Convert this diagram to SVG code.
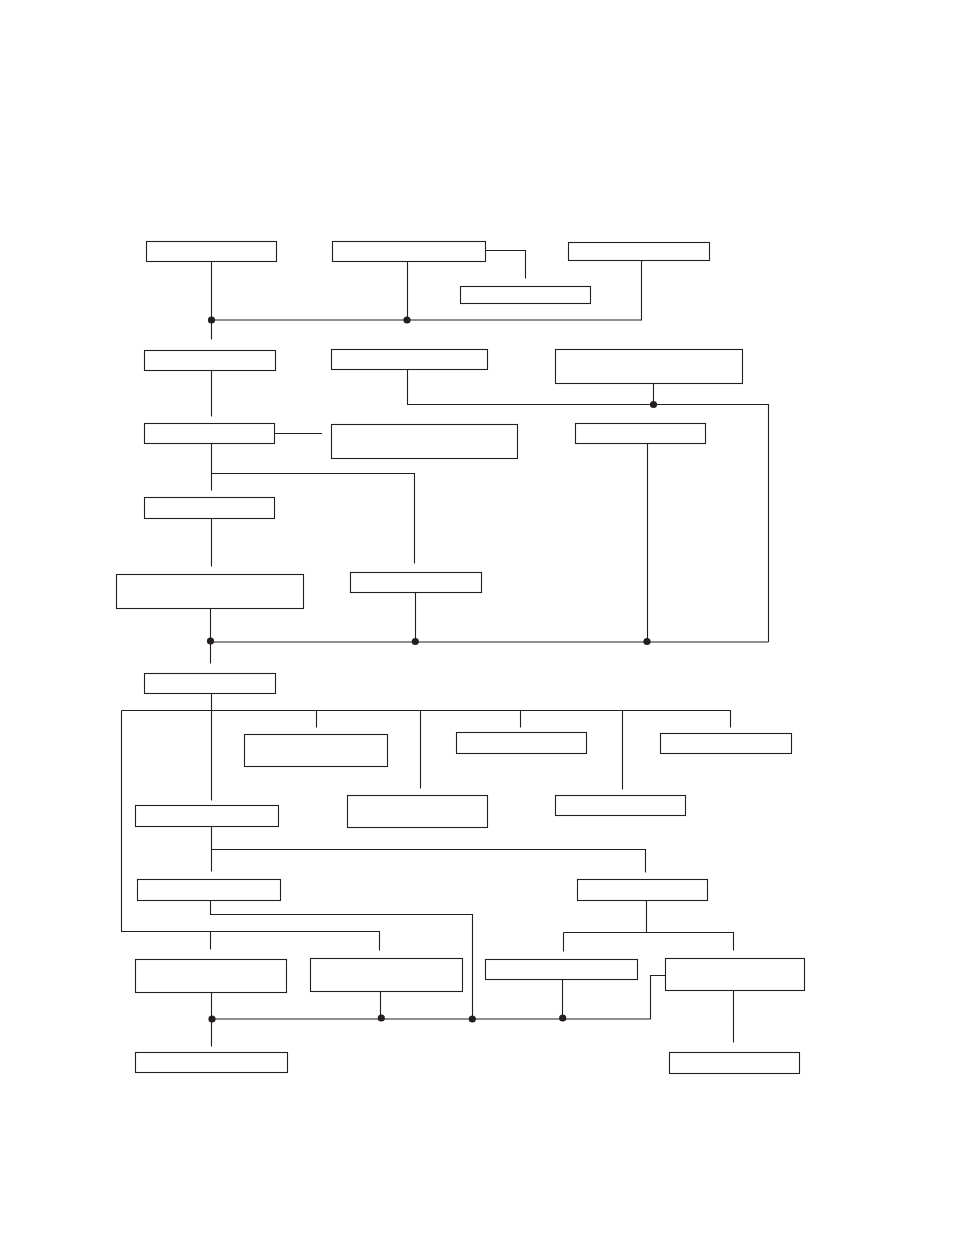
<svg xmlns="http://www.w3.org/2000/svg" width="954" height="1235" viewBox="0 0 954 1235">
<style>
.box{fill:#fff;stroke:#231f20;stroke-width:1.1}
.ln{fill:none;stroke:#231f20;stroke-width:1.1}
.dot{fill:#231f20}
</style>
<rect width="954" height="1235" fill="#fff"/>
<g id="connectors">
<path class="ln" d="M211.5,261.5V339.5 M407.5,261.5V320 M211.5,320H641.5V260.5 M485.5,250.5H525.5V278.5"/>
<path class="ln" d="M211.5,370.5V416.5 M407.5,369.5V404.5H768.5V642 M653.5,383.5V404.5 M274.5,433.5H322"/>
<path class="ln" d="M211.5,443.5V490.5 M211.5,473.5H414.5V563.5 M647.5,443.5V642 M211.5,518.5V566.5"/>
<path class="ln" d="M210.5,608.5V663.5 M415.5,592.5V642 M210.5,642H768.5"/>
<path class="ln" d="M211.5,693.5V800.5 M121.5,710.5H730.5V727.5 M316.5,710.5V727.5 M420.5,710.5V788.5 M520.5,710.5V727.5 M622.5,710.5V789.5 M121.5,710.5V931.5H379.5V950.5 M210.5,931.5V949.5"/>
<path class="ln" d="M211.5,826.5V871.5 M211.5,849.5H645.5V872.5 M210.5,900.5V914.5H472.5V1019"/>
<path class="ln" d="M646.5,900.5V932.5 M563.5,932.5H733.5V950.5 M563.5,932.5V951.5"/>
<path class="ln" d="M211.5,992.5V1046.5 M380.5,991.5V1019 M562.5,979.5V1019 M211.5,1019H650.5V975.5H665.5 M733.5,990.5V1042.5"/>
<circle class="dot" cx="211.5" cy="320" r="3.6"/>
<circle class="dot" cx="407" cy="320" r="3.6"/>
<circle class="dot" cx="653.5" cy="404.5" r="3.6"/>
<circle class="dot" cx="210.5" cy="641" r="3.6"/>
<circle class="dot" cx="415.3" cy="641.5" r="3.6"/>
<circle class="dot" cx="647" cy="641.5" r="3.6"/>
<circle class="dot" cx="212" cy="1019" r="3.6"/>
<circle class="dot" cx="381.3" cy="1018" r="3.6"/>
<circle class="dot" cx="472.3" cy="1019" r="3.6"/>
<circle class="dot" cx="562.7" cy="1018" r="3.6"/>
</g>
<g id="n1"><rect class="box" x="146.5" y="241.5" width="130" height="20"/></g>
<g id="n2"><rect class="box" x="332.5" y="241.5" width="153" height="20"/></g>
<g id="n3"><rect class="box" x="460.5" y="286.5" width="130" height="17"/></g>
<g id="n4"><rect class="box" x="568.5" y="242.5" width="141" height="18"/></g>
<g id="n5"><rect class="box" x="144.5" y="350.5" width="131" height="20"/></g>
<g id="n6"><rect class="box" x="331.5" y="349.5" width="156" height="20"/></g>
<g id="n7"><rect class="box" x="555.5" y="349.5" width="187" height="34"/></g>
<g id="n8"><rect class="box" x="144.5" y="423.5" width="130" height="20"/></g>
<g id="n9"><rect class="box" x="331.5" y="424.5" width="186" height="34"/></g>
<g id="n10"><rect class="box" x="575.5" y="423.5" width="130" height="20"/></g>
<g id="n11"><rect class="box" x="144.5" y="497.5" width="130" height="21"/></g>
<g id="n12"><rect class="box" x="116.5" y="574.5" width="187" height="34"/></g>
<g id="n13"><rect class="box" x="350.5" y="572.5" width="131" height="20"/></g>
<g id="n14"><rect class="box" x="144.5" y="673.5" width="131" height="20"/></g>
<g id="n15"><rect class="box" x="244.5" y="734.5" width="143" height="32"/></g>
<g id="n16"><rect class="box" x="456.5" y="732.5" width="130" height="21"/></g>
<g id="n17"><rect class="box" x="660.5" y="733.5" width="131" height="20"/></g>
<g id="n18"><rect class="box" x="347.5" y="795.5" width="140" height="32"/></g>
<g id="n19"><rect class="box" x="555.5" y="795.5" width="130" height="20"/></g>
<g id="n20"><rect class="box" x="135.5" y="805.5" width="143" height="21"/></g>
<g id="n21"><rect class="box" x="137.5" y="879.5" width="143" height="21"/></g>
<g id="n22"><rect class="box" x="577.5" y="879.5" width="130" height="21"/></g>
<g id="n23"><rect class="box" x="135.5" y="959.5" width="151" height="33"/></g>
<g id="n24"><rect class="box" x="310.5" y="958.5" width="152" height="33"/></g>
<g id="n25"><rect class="box" x="485.5" y="959.5" width="152" height="20"/></g>
<g id="n26"><rect class="box" x="665.5" y="958.5" width="139" height="32"/></g>
<g id="n27"><rect class="box" x="135.5" y="1052.5" width="152" height="20"/></g>
<g id="n28"><rect class="box" x="669.5" y="1052.5" width="130" height="21"/></g>
</svg>
